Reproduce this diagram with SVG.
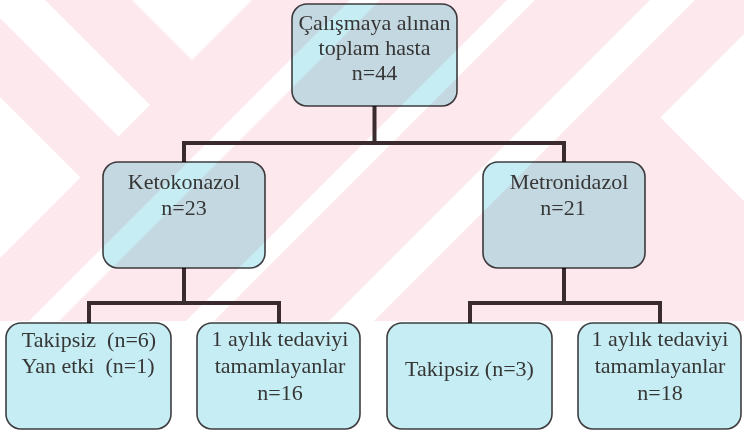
<svg xmlns="http://www.w3.org/2000/svg" width="744" height="432" viewBox="0 0 744 432">
<style>
.box{fill:#c6edf3;stroke:#3e3e40;stroke-width:1.6;mix-blend-mode:multiply}
.t{font-family:"Liberation Serif","Times New Roman",serif;font-size:22px;fill:#363636;text-anchor:middle;white-space:pre}
.c{fill:none;stroke:#3a2b2e;stroke-width:4;stroke-linejoin:miter}
.wm{fill:#fff}
</style>
<rect width="744" height="432" fill="#fff"/>
<g id="watermark">
<rect x="0" y="0" width="744" height="321" fill="#fde9ed"/>
<polygon class="wm" points="0,0 45,0 150,105 118.5,136.5 0,18"/>
<polygon class="wm" points="132,0 252,0 192,60"/>
<polygon class="wm" points="0,97 80.5,177.5 0,258"/>
<polygon class="wm" points="350,0 380,0 59,321 29,321"/>
<polygon class="wm" points="507,0 535,0 214,321 186,321"/>
<polygon class="wm" points="650,0 695,0 374,321 329,321"/>
<polygon class="wm" points="660.5,117.5 744,34 744,201"/>
</g>
<g id="connectors">
<path class="c" d="M374.5,106 V143 M184,162 V143 H564 V162"/>
<path class="c" d="M184,268 V303 M89,323 V303 H279 V323"/>
<path class="c" d="M564,268 V303 M470,323 V303 H660 V323"/>
</g>
<g id="root">
<rect class="box" x="292" y="4" width="165" height="102" rx="15"/>
<text class="t" x="374.5" y="30">Çalışmaya alınan</text>
<text class="t" x="374.5" y="55">toplam hasta</text>
<text class="t" x="374.5" y="80">n=44</text>
</g>
<g id="ketokonazol">
<rect class="box" x="103" y="162" width="162" height="106" rx="15"/>
<text class="t" x="184" y="189">Ketokonazol</text>
<text class="t" x="184" y="215">n=23</text>
</g>
<g id="metronidazol">
<rect class="box" x="483" y="162" width="162" height="106" rx="15"/>
<text class="t" x="569" y="189">Metronidazol</text>
<text class="t" x="563" y="215">n=21</text>
</g>
<g id="keto-takipsiz">
<rect class="box" x="6" y="323" width="165" height="106" rx="15"/>
<text class="t" x="89" y="347">Takipsiz  (n=6)</text>
<text class="t" x="88" y="373">Yan etki  (n=1)</text>
</g>
<g id="keto-tamamlayan">
<rect class="box" x="197" y="323" width="163" height="106" rx="15"/>
<text class="t" x="280" y="346">1 aylık tedaviyi</text>
<text class="t" x="280" y="373">tamamlayanlar</text>
<text class="t" x="280" y="400">n=16</text>
</g>
<g id="metro-takipsiz">
<rect class="box" x="387" y="323" width="165" height="106" rx="15"/>
<text class="t" x="469.5" y="376">Takipsiz (n=3)</text>
</g>
<g id="metro-tamamlayan">
<rect class="box" x="578" y="323" width="163" height="106" rx="15"/>
<text class="t" x="660" y="346">1 aylık tedaviyi</text>
<text class="t" x="660" y="373">tamamlayanlar</text>
<text class="t" x="660" y="400">n=18</text>
</g>
</svg>
